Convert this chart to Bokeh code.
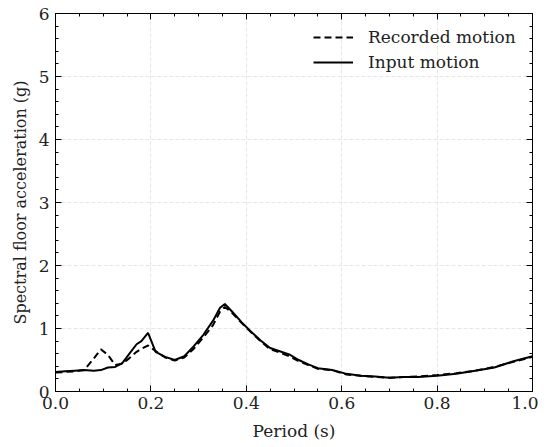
from bokeh.plotting import figure
from bokeh.models import (LinearAxis, Range1d, Legend, LegendItem, ColumnDataSource,
                          NumeralTickFormatter, CustomJSTickFormatter, SingleIntervalTicker)
from bokeh.embed import file_html
from bokeh.resources import INLINE

periods = [0.00, 0.02, 0.04, 0.06, 0.08, 0.095, 0.11, 0.125, 0.14, 0.155, 0.17, 0.18, 0.194,
           0.21, 0.23, 0.25, 0.27, 0.29, 0.31, 0.33, 0.345, 0.355, 0.37, 0.39, 0.41, 0.43,
           0.45, 0.47, 0.49, 0.51, 0.53, 0.55, 0.58, 0.61, 0.64, 0.67, 0.70, 0.73, 0.76,
           0.80, 0.84, 0.88, 0.92, 0.96, 1.00]
input_motion = [0.31, 0.32, 0.33, 0.34, 0.33, 0.34, 0.38, 0.39, 0.45, 0.60, 0.75, 0.80, 0.93,
                0.63, 0.55, 0.50, 0.56, 0.72, 0.90, 1.12, 1.33, 1.39, 1.27, 1.10, 0.95, 0.81,
                0.69, 0.64, 0.59, 0.50, 0.43, 0.37, 0.34, 0.28, 0.25, 0.24, 0.22, 0.23, 0.23,
                0.25, 0.28, 0.33, 0.38, 0.48, 0.56]
recorded_motion = [0.30, 0.31, 0.32, 0.34, 0.52, 0.67, 0.58, 0.42, 0.44, 0.53, 0.63, 0.68, 0.73,
                   0.64, 0.54, 0.49, 0.54, 0.68, 0.86, 1.05, 1.27, 1.34, 1.25, 1.09, 0.94, 0.80,
                   0.67, 0.62, 0.56, 0.48, 0.42, 0.36, 0.34, 0.27, 0.25, 0.23, 0.22, 0.23, 0.24,
                   0.26, 0.29, 0.33, 0.39, 0.47, 0.55]

FONT = "DejaVu Serif"
FS = "17px"
TXT = "#222222"

src = ColumnDataSource(dict(t=periods, inp=input_motion, rec=recorded_motion))

p = figure(output_backend="svg", toolbar_location=None,
           frame_width=477, frame_height=378,
           x_range=Range1d(0, 1), y_range=Range1d(0, 6),
           min_border_left=55, min_border_right=6, min_border_top=13, min_border_bottom=10,
           outline_line_color="black", outline_line_width=1)

p.background_fill_color = "white"
p.border_fill_color = "white"

r_rec = p.line("t", "rec", source=src, line_color="black", line_width=2, line_dash="7 4")
r_inp = p.line("t", "inp", source=src, line_color="black", line_width=2)

blank = CustomJSTickFormatter(code="return '';")

def style_axis(ax, show_labels=True):
    ax.major_tick_in = 6
    ax.major_tick_out = 0
    ax.minor_tick_in = 3
    ax.minor_tick_out = 0
    ax.axis_line_color = "black"
    ax.major_tick_line_color = "black"
    ax.minor_tick_line_color = "black"
    ax.major_label_text_font = FONT
    ax.major_label_text_font_size = FS
    ax.major_label_text_color = TXT
    ax.axis_label_text_font = FONT
    ax.axis_label_text_font_size = FS
    ax.axis_label_text_font_style = "normal"
    ax.axis_label_text_color = TXT
    if not show_labels:
        ax.formatter = blank
        ax.major_label_standoff = 0

xt = SingleIntervalTicker(interval=0.2, num_minor_ticks=4)
yt = SingleIntervalTicker(interval=1, num_minor_ticks=5)

p.xaxis[0].ticker = xt
p.yaxis[0].ticker = yt
p.xgrid[0].ticker = xt
p.ygrid[0].ticker = yt
p.xaxis[0].formatter = NumeralTickFormatter(format="0.0")
p.xaxis.axis_label = "Period (s)"
p.yaxis.axis_label = "Spectral floor acceleration (g)"
style_axis(p.xaxis[0])
style_axis(p.yaxis[0])
p.yaxis.axis_label_text_font_size = "16px"
p.xaxis.major_label_standoff = 5
p.yaxis.major_label_standoff = 6
p.xaxis.axis_label_standoff = 9
p.yaxis.axis_label_standoff = 6

top = LinearAxis(ticker=SingleIntervalTicker(interval=0.2, num_minor_ticks=4))
right = LinearAxis(ticker=SingleIntervalTicker(interval=1, num_minor_ticks=5))
style_axis(top, False)
style_axis(right, False)
p.add_layout(top, "above")
p.add_layout(right, "right")

p.xgrid.grid_line_color = "#e6e6e6"
p.ygrid.grid_line_color = "#e6e6e6"
p.xgrid.grid_line_dash = "4 2"
p.ygrid.grid_line_dash = "4 2"

legend = Legend(items=[LegendItem(label="Recorded motion", renderers=[r_rec]),
                       LegendItem(label="Input motion", renderers=[r_inp])],
                location=(258, 319))
legend.border_line_color = None
legend.background_fill_alpha = 0
legend.label_text_font = FONT
legend.label_text_font_size = FS
legend.label_text_color = TXT
legend.glyph_width = 40
legend.label_standoff = 15
legend.spacing = 5
legend.margin = 0
legend.padding = 9
p.add_layout(legend)

open("out.html", "w").write(file_html(p, INLINE))
